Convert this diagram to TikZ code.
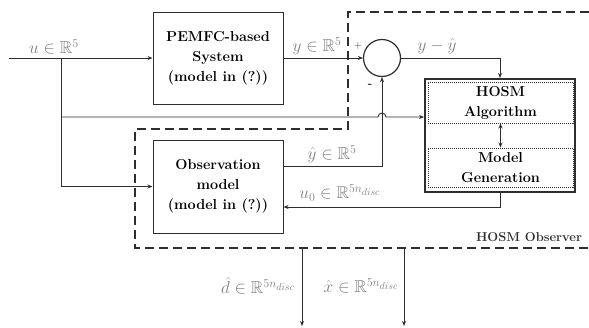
\documentclass[tikz,border=0pt]{standalone}
\usepackage{amssymb}
\usetikzlibrary{arrows.meta,positioning}
\definecolor{lGray}{gray}{0.18}
\definecolor{tGray}{gray}{0.5}
\tikzset{
    block/.style={rectangle, draw=lGray, line width=1pt, inner sep=0pt, align=center,
        font=\fontsize{14.4}{20}\selectfont\bfseries},
    subblock/.style={block, dash pattern=on 1pt off 1pt},
    sumnode/.style={circle, draw=lGray, line width=1.2pt, inner sep=0pt, minimum size=37pt},
    sig/.style={lGray, line width=0.9pt, -{Stealth[length=5pt,width=4pt]}},
    frame/.style={lGray, line width=1.6pt, dash pattern=on 9pt off 5pt},
    lbl/.style={tGray, inner sep=1pt, font=\fontsize{17.28}{20}\selectfont}
}

\begin{document}
\begin{tikzpicture}[x=1pt,y=-1pt]
\useasboundingbox (0,0) rectangle (589,327);
% plant, observation model, comparator
\node[block, minimum width=130pt, minimum height=92pt] (sys) at (218,58) {PEMFC-based\\System\\(model in (?))};
\node[block, minimum width=130pt, minimum height=93pt] (obs) at (218,186.5) {Observation\\model\\(model in (?))};
\node[sumnode] (sum) at (382,58) {};
% HOSM block with its two parts
\node[block, line width=2pt, minimum width=150pt, minimum height=113pt] (hosm) at (500,135.5) {};
\node[subblock, minimum width=145pt, minimum height=41pt] (alg) at (500.5,102.5) {HOSM\\Algorithm};
\node[subblock, minimum width=145pt, minimum height=39pt] (gen) at (500.5,167.5) {Model\\Generation};

% observer frame
\draw[frame] (589,12) -- (348,12) -- (348,129) -- (135,129) -- (135,248) -- (589,248);
\node[lGray, font=\fontsize{12.9}{14}\selectfont\bfseries] (obsname) at (529,237) {HOSM Observer};

% input u and its branches
\coordinate (uin) at (9,58);
\coordinate (ub) at (61,58);
\coordinate (uh) at (61,117);
\draw[sig] (uin) -- (sys.west);
\draw[sig] (ub) |- (obs.west);
\draw[sig] (uh) -- ++(317,0) arc[start angle=180, end angle=360, radius=4] -- (hosm.west |- uh);

% signals around the comparator
\draw[sig] (sys.east) -- (sum.west);
\draw[sig] ([yshift=20.5pt]obs.east) -| (sum.south);
\draw[sig] (sum.east) -| (hosm.north);
\draw[lGray, line width=1.2pt, {Stealth[length=5pt,width=4pt]}-{Stealth[length=5pt,width=4pt]}] (alg.south) -- (gen.north);
\draw[sig] (hosm.south) |- ([yshift=-20.5pt]obs.east);

% estimates leaving the observer
\coordinate (dh) at (302,248);
\coordinate (dhend) at (302,326);
\coordinate (xh) at (404,248);
\coordinate (xhend) at (404,326);
\draw[sig] (dh) -- (dhend);
\draw[sig] (xh) -- (xhend);

% signal labels
\node[lbl] (ulbl) at (54,47) {$u\in\mathbb{R}^5$};
\node[lbl] (ylbl) at (317,46) {$y\in\mathbb{R}^5$};
\node[lbl] (elbl) at (437,46) {$y-\hat{y}$};
\node[lbl] (yhlbl) at (332,154) {$\hat{y}\in\mathbb{R}^5$};
\node[lbl] (u0lbl) at (340,193) {$u_0\in\mathbb{R}^{5n_{disc}}$};
\node[lbl] (dlbl) at (258,286) {$\hat{d}\in\mathbb{R}^{5n_{disc}}$};
\node[lbl] (xlbl) at (361,286) {$\hat{x}\in\mathbb{R}^{5n_{disc}}$};
\node[lGray, font=\fontsize{10}{12}\selectfont] (plus) at (358,46) {+};
\node[lGray, font=\fontsize{12}{12}\selectfont\bfseries] (minus) at (370,86) {-};
\end{tikzpicture}
\end{document}
